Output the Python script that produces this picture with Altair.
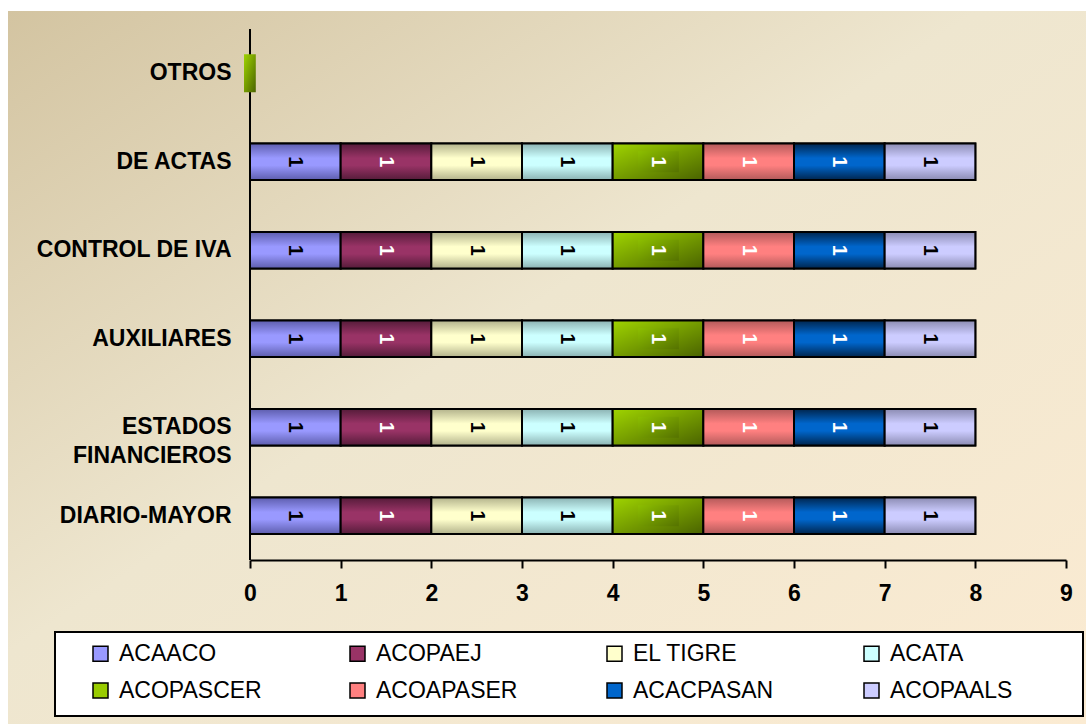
import altair as alt
import pandas as pd

# Categories (top to bottom) and series (legend order)
categories = ["OTROS", "DE ACTAS", "CONTROL DE IVA", "AUXILIARES",
              "ESTADOS FINANCIEROS", "DIARIO-MAYOR"]
series = ["ACAACO", "ACOPAEJ", "EL TIGRE", "ACATA",
          "ACOPASCER", "ACOAPASER", "ACACPASAN", "ACOPAALS"]

# Values per category, in series order
de_actas = [1, 1, 1, 1, 1, 1, 1, 1]
control_de_iva = [1, 1, 1, 1, 1, 1, 1, 1]
auxiliares = [1, 1, 1, 1, 1, 1, 1, 1]
estados_financieros = [1, 1, 1, 1, 1, 1, 1, 1]
diario_mayor = [1, 1, 1, 1, 1, 1, 1, 1]
otros_series = ["ACOPASCER"]
otros_values = [0.13]

rows = []
for cat, vals in [("DE ACTAS", de_actas), ("CONTROL DE IVA", control_de_iva),
                  ("AUXILIARES", auxiliares),
                  ("ESTADOS FINANCIEROS", estados_financieros),
                  ("DIARIO-MAYOR", diario_mayor)]:
    for i, (s, v) in enumerate(zip(series, vals)):
        rows.append({"cat": cat, "series": s, "order": i, "value": v})
for s, v in zip(otros_series, otros_values):
    rows.append({"cat": "OTROS", "series": s, "order": series.index(s), "value": v})
df = pd.DataFrame(rows)

# Fill colours: (middle, edge) for the shaded bars
mids = ["#9999FF", "#993366", "#FFFFCC", "#CCFFFF",
        "#99CC00", "#FF8080", "#0066CC", "#CCCCFF"]
edges = ["#5E5EAE", "#561C3A", "#B3B38C", "#8CB3B3",
         "#4C6600", "#B35A5A", "#00264F", "#8C8CB3"]
white_label = ["ACOPAEJ", "ACOPASCER", "ACOAPASER", "ACACPASAN"]

W, H = 816, 531
FONT = "Liberation Sans"
FS = 23


def stops(pairs):
    return [alt.GradientStop(offset=o, color=c) for o, c in pairs]


def vgrad(mid, edge):
    return alt.LinearGradient(gradient="linear", x1=0, y1=0, x2=0, y2=1,
                              stops=stops([(0, edge), (0.4, mid), (0.6, mid), (1, edge)]))


green_diag = alt.LinearGradient(gradient="linear", x1=0, y1=0, x2=1, y2=1,
                                stops=stops([(0, "#9FD400"), (1, "#4A6300")]))
green_box = alt.LinearGradient(gradient="linear", x1=0, y1=0, x2=1, y2=1,
                               stops=stops([(0, "#8CBE00"), (1, "#557200")]))
bg_grad = alt.LinearGradient(gradient="linear", x1=0, y1=0, x2=1, y2=1,
                             stops=stops([(0, "#D3C4A1"), (0.45, "#EEE6CF"), (1, "#FBEBD2")]))

y_enc = alt.Y(
    "cat:N", sort=categories, title=None,
    scale=alt.Scale(domain=categories, paddingInner=0.59, paddingOuter=0.295),
    axis=alt.Axis(
        domain=False, ticks=False, tickSize=0, labelPadding=19,
        labelFont=FONT, labelFontSize=FS, labelFontWeight="bold",
        labelColor="black", labelLineHeight=29, labelLimit=300,
        labelExpr="datum.label == 'ESTADOS FINANCIEROS' ? "
                  "['ESTADOS\u00a0\u00a0\u00a0\u00a0', 'FINANCIEROS'] : datum.label",
        zindex=1,
    ),
)
x_scale = alt.Scale(domain=[0, 9], nice=False, zero=True)
x_axis = alt.Axis(
    values=list(range(10)), format="d", domainColor="black", domainWidth=2,
    tickColor="black", tickWidth=2, tickSize=8, labelPadding=14, labelFlush=False,
    labelFont=FONT, labelFontSize=FS, labelFontWeight="bold", labelColor="black",
    grid=False, zindex=1,
)

one = pd.DataFrame({"k": [0]})

background = alt.Chart(one).mark_rect(fill=bg_grad).encode(
    x=alt.value(-242), x2=alt.value(W + 20), y=alt.value(-18), y2=alt.value(H + 164)
)
legend_box = alt.Chart(one).mark_rect(fill="white", stroke="black", strokeWidth=2).encode(
    x=alt.value(-195), x2=alt.value(833), y=alt.value(603), y2=alt.value(687)
)
y_axis_line = alt.Chart(one).mark_rule(color="black", strokeWidth=2).encode(
    x=alt.value(0), y=alt.value(0), y2=alt.value(H)
)

stacked = (
    alt.Chart(df)
    .transform_stack(stack="value", as_=["x0", "x1"], groupby=["cat"],
                     sort=[alt.SortField(field="order", order="ascending")])
    .transform_calculate(mid="(datum.x0 + datum.x1) / 2")
)
full = stacked.transform_filter(alt.datum.cat != "OTROS")

base_bars = full.mark_bar(stroke="black", strokeWidth=2).encode(
    x=alt.X("x0:Q", scale=x_scale, axis=x_axis, title=None),
    x2="x1:Q",
    y=y_enc,
    fill=alt.Fill(
        "series:N", scale=alt.Scale(domain=series, range=mids),
        legend=alt.Legend(
            title=None, orient="none", direction="horizontal",
            legendX=-161, legendY=613, columns=4,
            columnPadding=84, rowPadding=13, gridAlign="all",
            symbolType="square", symbolSize=225, symbolStrokeColor="black",
            symbolStrokeWidth=1.5, symbolOpacity=1, labelFont=FONT,
            labelFontSize=FS, labelColor="black", labelOffset=7, labelLimit=300,
        ),
    ),
)

shaded = []
for s, m, e in zip(series, mids, edges):
    fill = green_diag if s == "ACOPASCER" else vgrad(m, e)
    shaded.append(
        full.transform_filter(alt.datum.series == s)
        .mark_bar(fill=fill, stroke="black", strokeWidth=2)
        .encode(x="x0:Q", x2="x1:Q", y=y_enc)
    )

inner_box = (
    full.transform_filter(alt.datum.series == "ACOPASCER")
    .transform_calculate(b0="datum.x0 + 0.28", b1="datum.x1 - 0.27")
    .mark_bar(fill=green_box, height=21)
    .encode(x="b0:Q", x2="b1:Q", y=y_enc)
)

labels = full.mark_text(angle=90, font=FONT, fontSize=20, fontWeight="bold",
                        align="center", baseline="middle").encode(
    x="mid:Q", y=y_enc,
    text=alt.Text("value:Q", format=".0f"),
    color=alt.condition(alt.FieldOneOfPredicate(field="series", oneOf=white_label),
                        alt.value("white"), alt.value("black")),
)

otros = (
    stacked.transform_filter(alt.datum.cat == "OTROS")
    .mark_bar(fill=green_diag, xOffset=-6, x2Offset=-6, strokeWidth=0, height=38)
    .encode(x="x0:Q", x2="x1:Q", y=y_enc)
)

chart = (
    alt.layer(background, legend_box, y_axis_line, base_bars, *shaded,
              inner_box, labels, otros)
    .properties(width=W, height=H,
                autosize=alt.AutoSizeParams(type="none"),
                padding={"left": 250, "top": 29, "right": 20, "bottom": 164})
    .configure_view(stroke=None)
    .configure(background="white", font=FONT)
)

chart.save("out.html", embed_options={"renderer": "svg", "actions": False})
